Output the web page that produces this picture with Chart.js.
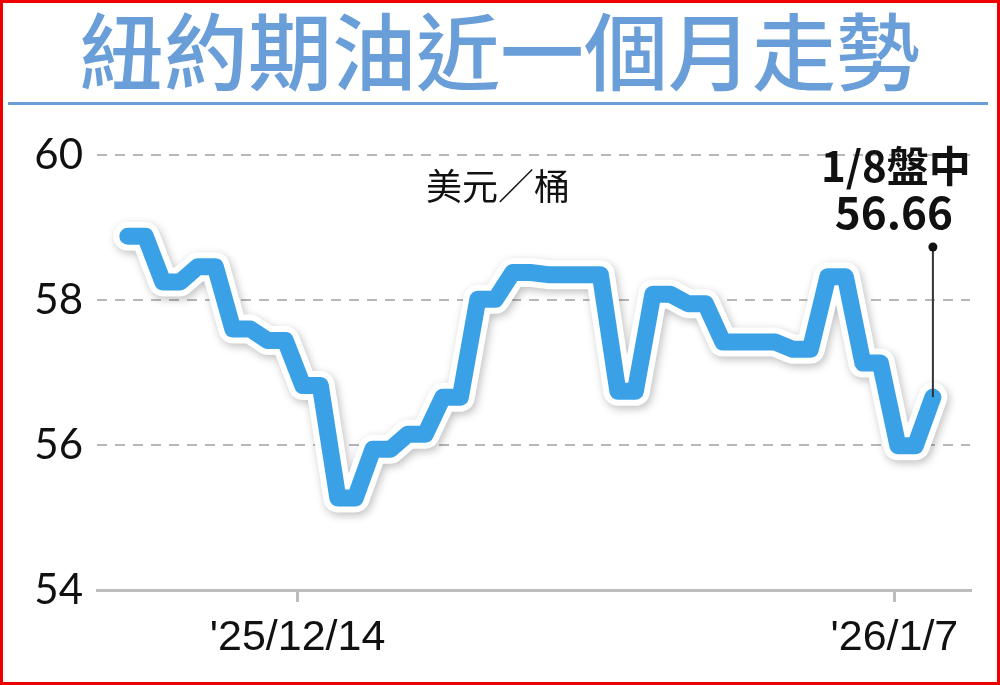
<!DOCTYPE html>
<html>
<head>
<meta charset="utf-8">
<script src="https://cdn.jsdelivr.net/npm/chart.js@4.4.1/dist/chart.umd.min.js"></script>
<style>
    html, body { margin: 0; padding: 0; background: #fff; }
    #marco { position: relative; width: 1000px; height: 685px; overflow: hidden; }
    #marco canvas { position: absolute; left: 0; top: 0; }
    #borde { position: absolute; left: 0; top: 0; width: 1000px; height: 685px; box-sizing: border-box; border: 3px solid #ee0000; pointer-events: none; }
</style>
</head>
<body>
<div id="marco">
    <canvas id="graficaPetroleo" width="1000" height="685"></canvas>
    <div id="borde"></div>
</div>
<script>
const titulo = '紐約期油近一個月走勢';
const unidad = '美元／桶';

// cierre diario WTI por día hábil (feriados repiten el último cierre, como en el gráfico)
const fechas = [
    '2025-12-08', '2025-12-09', '2025-12-10', '2025-12-11', '2025-12-12',
    '2025-12-15', '2025-12-16', '2025-12-17', '2025-12-18', '2025-12-19',
    '2025-12-22', '2025-12-23', '2025-12-24', '2025-12-25', '2025-12-26',
    '2025-12-29', '2025-12-30', '2025-12-31', '2026-01-01', '2026-01-02',
    '2026-01-05', '2026-01-06', '2026-01-07', '2026-01-08'
];
const precios = [
    58.88, 58.25, 58.46, 57.60, 57.44,
    56.82, 55.27, 55.94, 56.15, 56.66,
    58.01, 58.38, 58.35, 58.35, 56.74,
    58.08, 57.95, 57.42, 57.42, 57.32,
    58.32, 57.13, 55.99, 56.66
];
const ticksY = [54, 56, 58, 60];
const ticksXPos = [4.6, 21.65];     // en días hábiles desde 12/8
const ticksXTexto = ["'25/12/14", "'26/1/7"];
const notaTexto = ['1/8盤中', '56.66'];

// índice de día hábil (lun-vie) contado desde la primera fecha
function diaHabil(fecha) {
    const base = new Date(fechas[0] + 'T00:00:00Z');
    const d = new Date(fecha + 'T00:00:00Z');
    let n = 0;
    for (let t = new Date(base); t < d; t.setUTCDate(t.getUTCDate() + 1)) {
        const w = t.getUTCDay();
        if (w !== 0 && w !== 6) n++;
    }
    return n;
}

// cada cierre se dibuja como un tramo plano; el último (intradía) solo como punto
const mitad = 0.25;
function armarPuntos() {
    const puntos = [];
    fechas.forEach((f, i) => {
        const s = diaHabil(f);
        if (i === fechas.length - 1) {
            puntos.push({ x: s - mitad, y: precios[i] });
        } else {
            puntos.push({ x: s - mitad, y: precios[i] }, { x: s + mitad, y: precios[i] });
        }
    });
    return puntos;
}

const azulTitulo = '#6a9ed8';
const azulLinea = '#3ba1e6';

// sombra suave bajo el contorno blanco (dataset 0)
const sombra = {
    id: 'sombra',
    beforeDatasetDraw(chart, args) {
        if (args.index === 0) {
            const c = chart.ctx;
            c.save();
            c.shadowColor = 'rgba(0,0,0,0.25)';
            c.shadowBlur = 8;
            c.shadowOffsetX = 2;
            c.shadowOffsetY = 3;
        }
    },
    afterDatasetDraw(chart, args) {
        if (args.index === 0) chart.ctx.restore();
    }
};

const textos = {
    id: 'textos',
    afterDraw(chart) {
        const c = chart.ctx;
        const area = chart.chartArea;
        c.save();

        // título y raya
        c.fillStyle = azulTitulo;
        c.font = '500 84px "Noto Sans CJK TC"';
        c.textAlign = 'center';
        c.textBaseline = 'middle';
        c.fillText(titulo, 500, 52);
        c.fillRect(8, 102, 980, 3);

        // unidad
        c.fillStyle = '#111';
        c.font = '36px "Noto Sans CJK TC"';
        c.fillText(unidad, 498, 186);

        // nota del último dato
        const meta = chart.getDatasetMeta(1);
        const ultimo = meta.data[meta.data.length - 1];
        const px = ultimo.x, py = ultimo.y;
        const yPunto = area.top + 92;
        c.strokeStyle = '#333';
        c.lineWidth = 2;
        c.beginPath();
        c.moveTo(px, yPunto);
        c.lineTo(px, py);
        c.stroke();
        c.fillStyle = '#111';
        c.beginPath();
        c.arc(px, yPunto, 4.5, 0, Math.PI * 2);
        c.fill();

        c.font = 'bold 42px "Noto Sans CJK TC"';
        c.fillText(notaTexto[0], px - 37, 166);
        c.font = 'bold 44px "Noto Sans CJK TC"';
        c.fillText(notaTexto[1], px - 39, 212);
        c.restore();
    }
};

const ctx = document.getElementById('graficaPetroleo').getContext('2d');

window.miGrafica = new Chart(ctx, {
    type: 'line',
    data: {
        datasets: [
            {
                data: armarPuntos(),
                order: 2,
                borderColor: '#ffffff',
                borderWidth: 29,
                pointRadius: 0,
                tension: 0,
                borderJoinStyle: 'round',
                borderCapStyle: 'round'
            },
            {
                data: armarPuntos(),
                order: 1,
                borderColor: azulLinea,
                borderWidth: 17,
                pointRadius: 0,
                tension: 0,
                borderJoinStyle: 'round',
                borderCapStyle: 'round'
            }
        ]
    },
    options: {
        responsive: false,
        animation: false,
        devicePixelRatio: 1,
        layout: {
            padding: { top: 155, right: 30, left: 0, bottom: 0 }
        },
        plugins: {
            legend: { display: false },
            tooltip: { enabled: false },
            title: { display: false }
        },
        scales: {
            x: {
                type: 'linear',
                min: -1.13,
                max: 23.81,
                afterBuildTicks: s => { s.ticks = ticksXPos.map(v => ({ value: v })); },
                afterFit: s => { s.height = 95; },
                ticks: {
                    callback: (v, i) => ticksXTexto[i],
                    autoSkip: false,
                    maxRotation: 0,
                    padding: 10,
                    color: '#111',
                    font: { family: '"Liberation Sans Narrow", "Liberation Sans"', size: 43 }
                },
                grid: {
                    drawOnChartArea: false,
                    drawTicks: true,
                    tickLength: 12,
                    color: '#bdbdbd',
                    lineWidth: 3
                },
                border: { display: true, color: '#bdbdbd', width: 3 }
            },
            y: {
                min: 54,
                max: 60,
                afterBuildTicks: s => { s.ticks = ticksY.map(v => ({ value: v })); },
                afterFit: s => { s.width = 97; },
                ticks: {
                    padding: 14,
                    color: '#111',
                    font: { family: 'Lato, "Liberation Sans"', size: 42 }
                },
                grid: {
                    drawTicks: false,
                    lineWidth: 2,
                    color: c => (c.tick && c.tick.value === 54) ? 'rgba(0,0,0,0)' : '#b8b8b8'
                },
                border: { display: false, dash: [10, 8] }
            }
        }
    },
    plugins: [sombra, textos]
});
</script>
</body>
</html>
